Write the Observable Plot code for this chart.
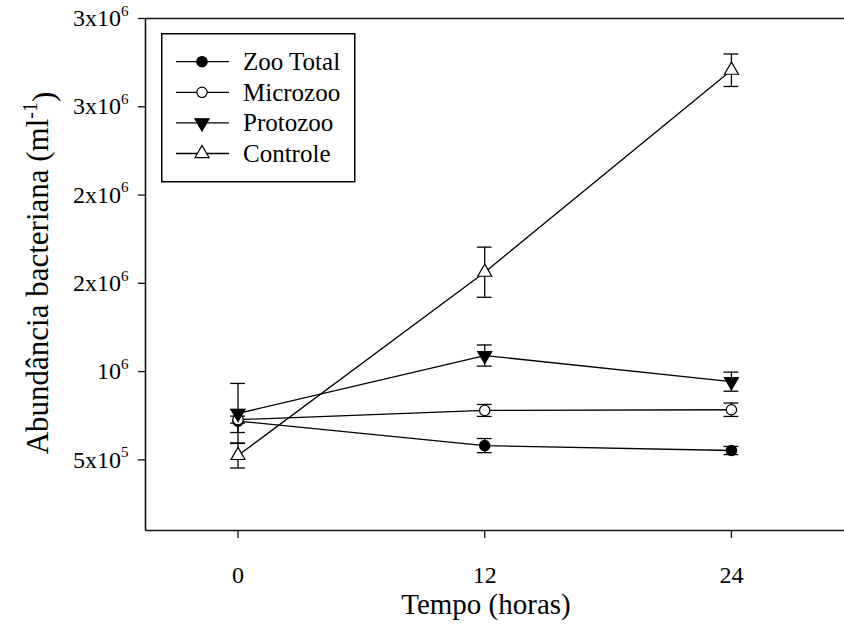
<!DOCTYPE html>
<html><head><meta charset="utf-8">
<script src="https://cdn.jsdelivr.net/npm/d3@7"></script>
<script src="https://cdn.jsdelivr.net/npm/@observablehq/plot@0.6"></script>
<style>
body{margin:0;background:#fff;}
#chart{position:relative;width:844px;height:624px;overflow:hidden;font-family:"Liberation Serif",serif;}
#chart svg{display:block;}
#chart svg text{font-family:"Liberation Serif",serif !important;}
#legend{position:absolute;left:161px;top:33px;}
</style></head><body><div id="chart"></div>
<script>
// ---- data ----
const hours = [0, 12, 24];
const seriesNames = ["Zoo Total", "Microzoo", "Protozoo", "Controle"];
const zooTotal    = [720000, 581000, 553000];
const zooTotalErr = [65000, 40000, 23000];
const microzoo    = [728000, 780000, 784000];
const microzooErr = [20000, 34000, 38000];
const protozoo    = [763000, 1091000, 943000];
const protozooErr = [170000, 60000, 54000];
const controle    = [525000, 1563000, 2707000];
const controleErr = [71000, 142000, 92000];
const yTicks = [5e5, 1e6, 1.5e6, 2e6, 2.5e6, 3e6];
const yTickBase = ["5x10", "10", "2x10", "2x10", "3x10", "3x10"];
const yTickExp  = ["5", "6", "6", "6", "6", "6"];
const xTicks = [0, 12, 24];
const xTitle = "Tempo (horas)";
const yTitle = "Abundância bacteriana (ml";
const yTitleExp = "-1";

// ---- build table ----
const values = [zooTotal, microzoo, protozoo, controle];
const errors = [zooTotalErr, microzooErr, protozooErr, controleErr];
const rows = [];
seriesNames.forEach((s, i) => hours.forEach((h, j) => rows.push({series: s, t: h, v: values[i][j], e: errors[i][j]})));

const triDown = {draw(context, size) {
  const y = -Math.sqrt(size / (Math.sqrt(3) * 3));
  context.moveTo(0, -y * 2);
  context.lineTo(-Math.sqrt(3) * y, y);
  context.lineTo(Math.sqrt(3) * y, y);
  context.closePath();
}};
const styleOf = {
  "Zoo Total": {symbol: "circle", fill: "black"},
  "Microzoo": {symbol: "circle", fill: "white"},
  "Protozoo": {symbol: triDown, fill: "black"},
  "Controle": {symbol: "triangle", fill: "white"}
};
const capHalf = 0.36;
const ink = "#111";
const serif = '"Liberation Serif", serif';

const plot = Plot.plot({
  width: 844, height: 624,
  marginLeft: 145, marginRight: 0, marginTop: 18, marginBottom: 94,
  style: {fontFamily: serif, fontSize: "24px", color: "black", background: "white"},
  x: {domain: [-4.5, 29.5]},
  y: {domain: [1e5, 3e6]},
  marks: [
    Plot.axisX(xTicks, {tickSize: 8, tickPadding: 27, fontSize: 24, label: null, stroke: ink, strokeWidth: 1.3}),
    Plot.axisY(yTicks, {tickSize: 7, tickPadding: 10, fontSize: 24, label: null, stroke: ink, strokeWidth: 1.3,
      tickFormat: d => yTickBase[yTicks.indexOf(d)] + yTickExp[yTicks.indexOf(d)]}),
    Plot.ruleY([3e6], {stroke: ink, strokeWidth: 1.6}),
    Plot.ruleY([1e5], {stroke: ink, strokeWidth: 1.6}),
    Plot.ruleX([-4.5], {stroke: ink, strokeWidth: 1.6}),
    Plot.line(rows, {x: "t", y: "v", z: "series", stroke: "black", strokeWidth: 1.3}),
    Plot.ruleX(rows, {x: "t", y1: d => d.v - d.e, y2: d => d.v + d.e, stroke: "black", strokeWidth: 1.3}),
    Plot.ruleY(rows, {y: d => d.v + d.e, x1: d => d.t - capHalf, x2: d => d.t + capHalf, stroke: "black", strokeWidth: 1.3}),
    Plot.ruleY(rows, {y: d => d.v - d.e, x1: d => d.t - capHalf, x2: d => d.t + capHalf, stroke: "black", strokeWidth: 1.3}),
    ...seriesNames.map(s => Plot.dot(rows.filter(d => d.series === s), {
      x: "t", y: "v", r: 5.2, symbol: styleOf[s].symbol, fill: styleOf[s].fill, stroke: "black", strokeWidth: 1.2
    }))
  ]
});
document.getElementById("chart").appendChild(plot);

// superscripts on y tick labels
const svg = d3.select(plot);
svg.selectAll('g[aria-label="y-axis tick label"] text').each(function() {
  const t = d3.select(this);
  const txt = t.text();
  const k = yTickBase.findIndex((b, j) => b + yTickExp[j] === txt);
  if (k < 0) return;
  t.text(null).attr("font-family", serif);
  t.append("tspan").text(yTickBase[k]);
  t.append("tspan").attr("dy", "-0.7em").attr("font-size", "15px").text(yTickExp[k]);
});
svg.selectAll("text").attr("font-family", serif);

// axis titles
svg.append("text")
  .attr("x", 486).attr("y", 614)
  .attr("text-anchor", "middle")
  .attr("font-family", serif)
  .attr("font-size", 29)
  .attr("fill", "black")
  .text(xTitle);
const yt = svg.append("text")
  .attr("transform", "translate(48,273) rotate(-90)")
  .attr("text-anchor", "middle")
  .attr("font-family", serif)
  .attr("font-size", 31)
  .attr("fill", "black");
yt.append("tspan").text(yTitle);
yt.append("tspan").attr("dy", "-0.55em").attr("font-size", 20).text(yTitleExp);
yt.append("tspan").attr("dy", "0.55em").text(")");

// legend
const lg = d3.select("#chart").append("svg").attr("id", "legend").attr("width", 196).attr("height", 151);
lg.append("rect").attr("x", 0.75).attr("y", 0.75).attr("width", 193).attr("height", 148)
  .attr("fill", "white").attr("stroke", "black").attr("stroke-width", 1.5);
seriesNames.forEach((s, i) => {
  const cy = 28.7 + i * 30.6;
  lg.append("line").attr("x1", 15).attr("x2", 68).attr("y1", cy).attr("y2", cy).attr("stroke", "black").attr("stroke-width", 1.3);
  const sym = styleOf[s].symbol;
  const type = sym === "circle" ? d3.symbolCircle : sym === "triangle" ? d3.symbolTriangle : sym;
  lg.append("path").attr("d", d3.symbol(type, 5.2 * 5.2 * Math.PI)())
    .attr("transform", `translate(41,${cy})`)
    .attr("fill", styleOf[s].fill).attr("stroke", "black").attr("stroke-width", 1.2);
  lg.append("text").attr("x", 82).attr("y", cy).attr("dy", "0.33em")
    .attr("font-family", serif)
    .attr("font-size", 25).attr("fill", "black").text(s);
});
</script>
</body></html>
